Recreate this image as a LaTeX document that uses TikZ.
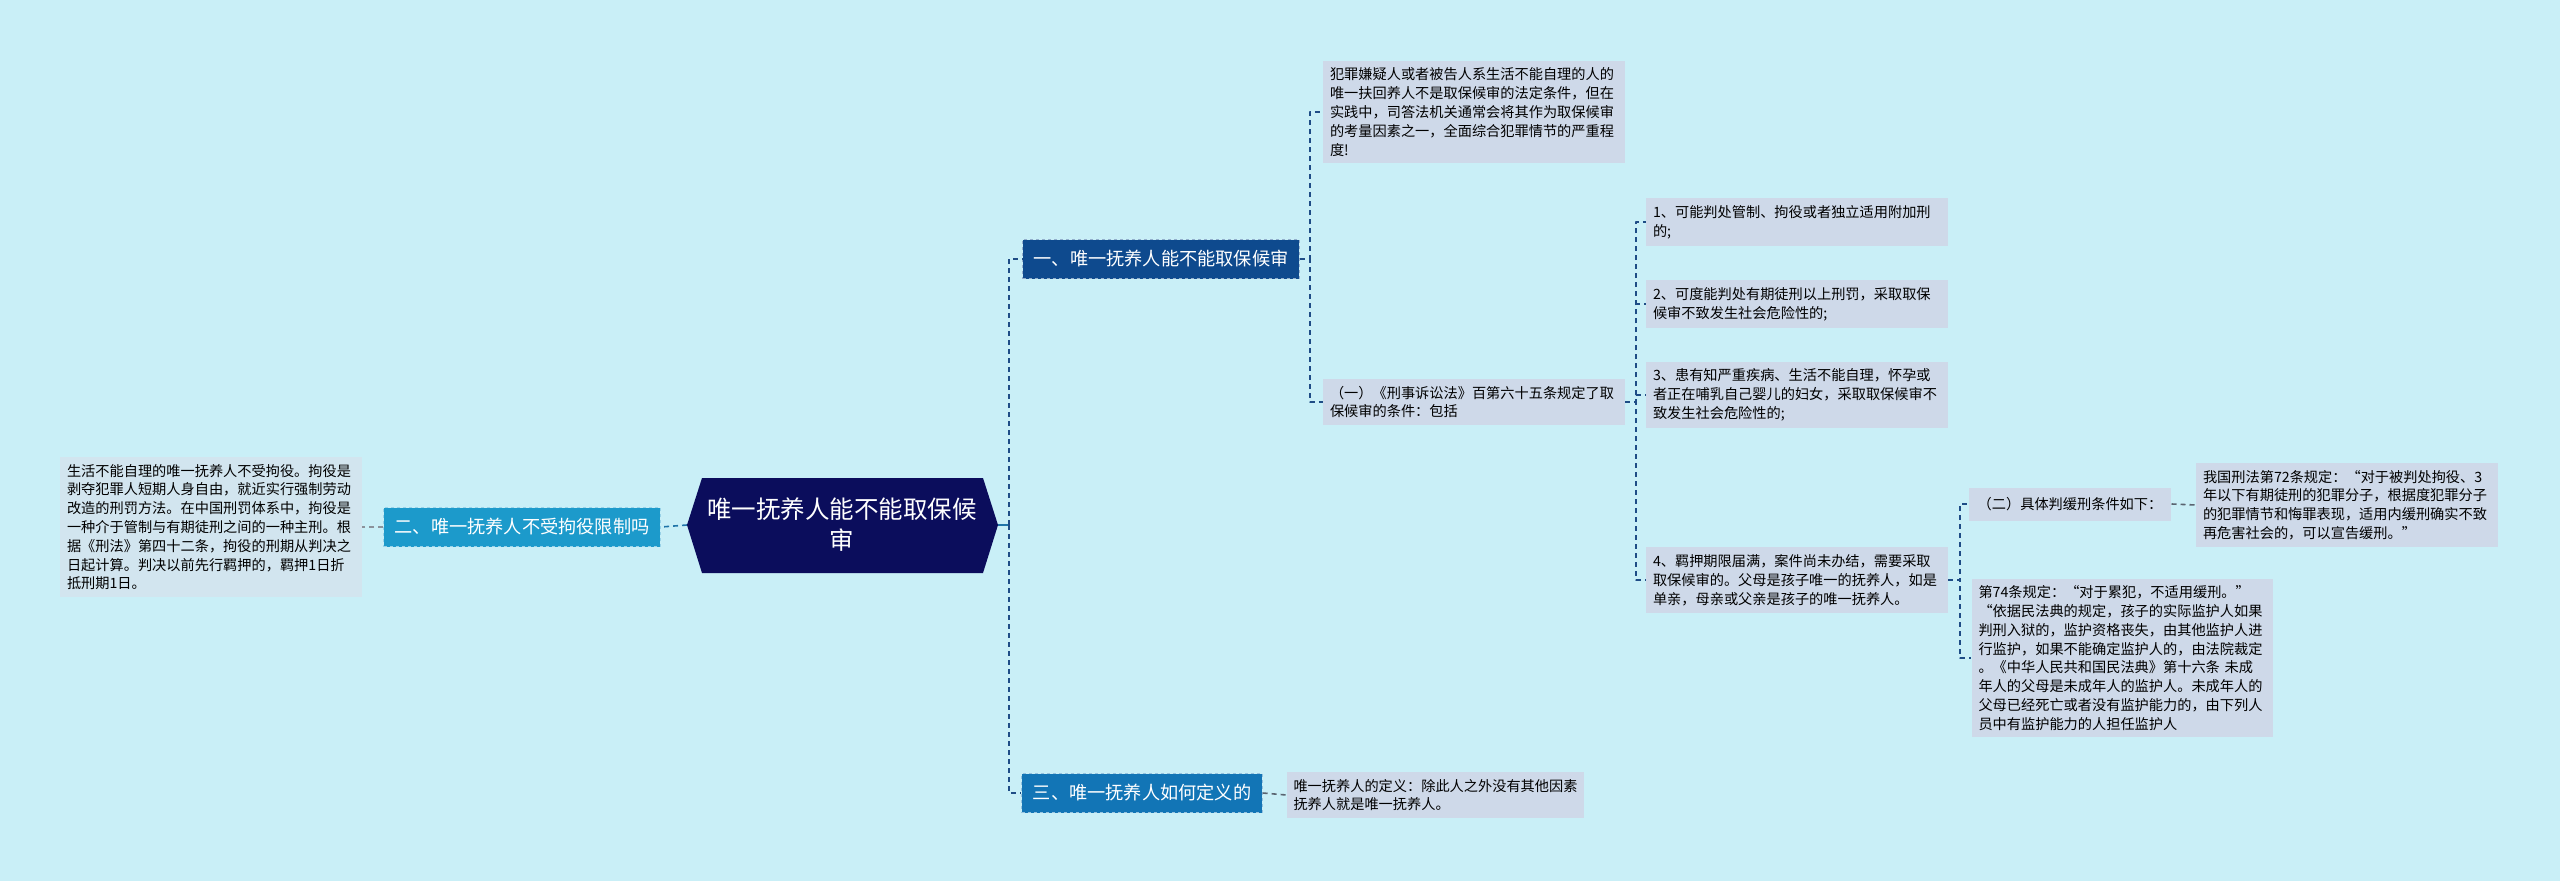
\documentclass[tikz,border=0pt]{standalone}
\usepackage{fontspec}
\setmainfont{Noto Sans CJK SC}
\usetikzlibrary{calc}
\definecolor{bgc}{HTML}{C9EFF7}
\definecolor{rootc}{HTML}{0B0D5C}
\definecolor{onec}{HTML}{0E4A8E}
\definecolor{twoc}{HTML}{1C9ACB}
\definecolor{threec}{HTML}{1275B6}
\definecolor{leafc}{HTML}{CED9E9}
\definecolor{leftc}{HTML}{D2E5EF}
\definecolor{navyline}{HTML}{1E4C86}
\definecolor{tealline}{HTML}{1F74A8}
\definecolor{grayline}{HTML}{5A6470}
\tikzset{branch/.style={fill=#1,draw=white!55!#1,dashed,line width=1pt,text=white,inner xsep=11pt,minimum height=39pt,font=\fontsize{18.2}{22}\selectfont}}
\tikzset{leaf/.style={fill=leafc,inner xsep=7pt,inner ysep=7pt,text width=288pt,align=left,font=\fontsize{14.2}{18.8}\selectfont}}
\tikzset{link/.style={dash pattern=on 5pt off 4pt,line width=1.6pt,draw=navyline}}

\begin{document}
\begin{tikzpicture}[x=1pt,y=-1pt,line join=round]
\fill[bgc] (0,0) rectangle (2560,881);
\useasboundingbox (0,0) rectangle (2560,881);
% --- root
\fill[rootc] (687,525) -- (702,478) -- (983,478) -- (998,525) -- (983,573) -- (702,573) -- cycle;
\coordinate (rootL) at (687,525); \coordinate (rootR) at (998,525);
\node[text=white,align=center,font=\fontsize{24.5}{31}\selectfont] (root) at (842,525) {唯一抚养人能不能取保候\\审};
% --- branches
\node[branch=onec] (b1) at (1161,259) {一、唯一抚养人能不能取保候审};
\node[branch=twoc] (b2) at (522,527) {二、唯一抚养人不受拘役限制吗};
\node[branch=threec] (b3) at (1142,793) {三、唯一抚养人如何定义的};
% --- left
\node[leaf,fill=leftc] (jy) at (211,527) {生活不能自理的唯一抚养人不受拘役。拘役是\\剥夺犯罪人短期人身自由，就近实行强制劳动\\改造的刑罚方法。在中国刑罚体系中，拘役是\\一种介于管制与有期徒刑之间的一种主刑。根\\据《刑法》第四十二条，拘役的刑期从判决之\\日起计算。判决以前先行羁押的，羁押1日折\\抵刑期1日。};
% --- branch one
\node[leaf] (fz) at (1474,112) {犯罪嫌疑人或者被告人系生活不能自理的人的\\唯一扶回养人不是取保候审的法定条件，但在\\实践中，司答法机关通常会将其作为取保候审\\的考量因素之一，全面综合犯罪情节的严重程\\度!};
\node[leaf] (yi) at (1474,402) {（一）《刑事诉讼法》百第六十五条规定了取\\保候审的条件：包括};
\node[leaf] (c1) at (1797,222) {1、可能判处管制、拘役或者独立适用附加刑\\的;};
\node[leaf] (c2) at (1797,304) {2、可度能判处有期徒刑以上刑罚，采取取保\\候审不致发生社会危险性的;};
\node[leaf] (c3) at (1797,395) {3、患有知严重疾病、生活不能自理，怀孕或\\者正在哺乳自己婴儿的妇女，采取取保候审不\\致发生社会危险性的;};
\node[leaf] (c4) at (1797,580) {4、羁押期限届满，案件尚未办结，需要采取\\取保候审的。父母是孩子唯一的抚养人，如是\\单亲，母亲或父亲是孩子的唯一抚养人。};
\node[fill=leafc,inner xsep=9pt,minimum height=33pt,font=\fontsize{14.2}{18.8}\selectfont] (er) at (2070,504) {（二）具体判缓刑条件如下：};
\node[leaf] (d72) at (2347,505) {我国刑法第72条规定：“对于被判处拘役、3\\年以下有期徒刑的犯罪分子，根据度犯罪分子\\的犯罪情节和悔罪表现，适用内缓刑确实不致\\再危害社会的，可以宣告缓刑。”};
\node[leaf,text width=287pt] (d74) at (2122,658) {第74条规定：“对于累犯，不适用缓刑。”\\“依据民法典的规定，孩子的实际监护人如果\\判刑入狱的，监护资格丧失，由其他监护人进\\行监护，如果不能确定监护人的，由法院裁定\\。《中华人民共和国民法典》第十六条 未成\\年人的父母是未成年人的监护人。未成年人的\\父母已经死亡或者没有监护能力的，由下列人\\员中有监护能力的人担任监护人};
% --- branch three
\node[leaf,text width=283pt] (def) at (1435,795) {唯一抚养人的定义：除此人之外没有其他因素\\抚养人就是唯一抚养人。};
% --- links
\draw[tealline,line width=1.6pt] (rootR) -- ++(11,0);
\draw[link] (rootR) ++(11,0) |- (b1.west);
\draw[link] (rootR) ++(11,0) |- (b3.west);
\draw[link,draw=tealline] (rootL) -- (b2.east);
\draw[link,draw=grayline!70] (b2.west) -- (jy.east);
\draw[link] (b1.east) -- ++(10,0) |- (fz.west);
\draw[link] (b1.east) -- ++(10,0) |- (yi.west);
\foreach \c in {c1,c2,c3,c4} \draw[link] (yi.east) -- ++(11,0) |- (\c.west);
\draw[link] (c4.east) -- ++(12,0) |- (er.west);
\draw[link] (c4.east) -- ++(12,0) |- (d74.west);
\draw[link,draw=grayline] (er.east) -- (d72.west);
\draw[link,draw=grayline] (b3.east) -- (def.west);
\end{tikzpicture}
\end{document}
